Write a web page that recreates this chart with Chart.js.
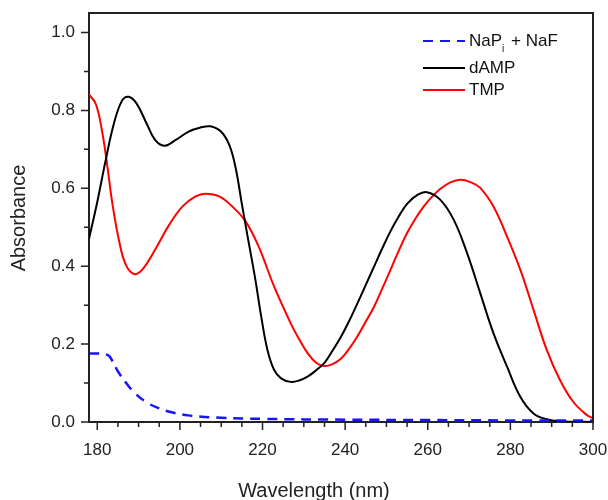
<!DOCTYPE html>
<html>
<head>
<meta charset="utf-8">
<script src="https://cdn.jsdelivr.net/npm/chart.js@4/dist/chart.umd.min.js"></script>
<style>
  body { margin: 0; background: #fff; }
  #wrap { width: 608px; height: 500px; }
</style>
</head>
<body>
<div id="wrap"><canvas id="spectra" width="608" height="500"></canvas></div>
<script>
// wavelength (nm) / absorbance pairs
const damp = [
  [178, 0.47], [180, 0.565], [182, 0.67], [184, 0.765], [186, 0.825], [187.6, 0.835],
  [189.5, 0.818], [192, 0.765], [194, 0.724], [196.2, 0.709], [199, 0.724], [202, 0.745],
  [205, 0.756], [207.4, 0.759], [210, 0.745], [212, 0.71], [213.5, 0.652], [215, 0.56],
  [216.5, 0.47], [218.2, 0.37], [219.7, 0.27], [221.2, 0.185], [222.8, 0.134], [224.5, 0.112],
  [226.8, 0.103], [229, 0.107], [231, 0.117], [233, 0.133], [235, 0.152], [237, 0.184],
  [239, 0.219], [241, 0.26], [243, 0.305], [245, 0.352], [247, 0.399], [249, 0.446],
  [251, 0.49], [253, 0.528], [255, 0.56], [257.5, 0.583], [259.8, 0.59], [263, 0.571],
  [266.3, 0.519], [269.5, 0.434], [272.7, 0.331], [275.9, 0.228], [279.2, 0.142],
  [282.4, 0.065], [285.6, 0.022], [288.8, 0.007], [292, 0.002], [300, 0.0]
];
const tmp = [
  [178, 0.841], [179.7, 0.815], [181.3, 0.738], [182.5, 0.652], [183.7, 0.558],
  [185.3, 0.464], [186.9, 0.404], [188.9, 0.38], [190.9, 0.391], [194.2, 0.446],
  [197.4, 0.506], [200.6, 0.553], [203.8, 0.579], [206.2, 0.586], [209.5, 0.579],
  [212.7, 0.553], [215.9, 0.515], [219, 0.452], [222.8, 0.348], [226.8, 0.254],
  [228.9, 0.212], [230.9, 0.177], [233, 0.152], [234.9, 0.144], [236.8, 0.148],
  [238.9, 0.162], [240.9, 0.187], [242.9, 0.219], [244.9, 0.256], [247, 0.296],
  [249, 0.343], [251, 0.391], [253, 0.44], [255, 0.485], [257, 0.522], [259, 0.553],
  [261, 0.578], [263, 0.598], [265.5, 0.615], [267.9, 0.622], [270.3, 0.616],
  [272.7, 0.601], [275.9, 0.553], [279.2, 0.476], [282.4, 0.391], [285.6, 0.288],
  [288.8, 0.185], [292, 0.108], [295.2, 0.052], [298.5, 0.018], [300, 0.01]
];
const buffer = [
  [178, 0.176], [180, 0.176], [182, 0.174], [183, 0.168], [185, 0.13], [187, 0.10],
  [189, 0.075], [192, 0.05], [195, 0.035], [198, 0.025], [202, 0.017], [206, 0.013],
  [210, 0.011], [220, 0.008], [240, 0.006], [260, 0.005], [280, 0.004], [300, 0.004]
];

const xTicks = [180, 200, 220, 240, 260, 280, 300];
const yTicks = [0, 0.2, 0.4, 0.6, 0.8, 1.0];

const toPoints = arr => arr.map(p => ({ x: p[0], y: p[1] }));
const axisColor = "#222";
const fontFamily = "'Liberation Sans', Arial, sans-serif";

// ticks (major + minor), top/right frame, axis titles
const framePlugin = {
  id: "frame",
  afterDraw(chart) {
    const { ctx, chartArea: a, scales } = chart;
    const xs = scales.x, ys = scales.y;
    ctx.save();
    ctx.strokeStyle = axisColor;
    ctx.lineWidth = 2;
    ctx.beginPath();
    ctx.moveTo(a.left, a.top);
    ctx.lineTo(a.right, a.top);
    ctx.lineTo(a.right, a.bottom);
    ctx.stroke();

    ctx.lineWidth = 1.5;
    ctx.beginPath();
    for (let v = 180; v <= 300; v += 5) {
      const px = xs.getPixelForValue(v);
      const len = v % 20 === 0 ? 8 : 5;
      ctx.moveTo(px, a.bottom);
      ctx.lineTo(px, a.bottom + len);
    }
    for (let i = 0; i <= 10; i++) {
      const py = ys.getPixelForValue(i / 10);
      const len = i % 2 === 0 ? 8 : 5;
      ctx.moveTo(a.left, py);
      ctx.lineTo(a.left - len, py);
    }
    ctx.stroke();

    ctx.fillStyle = "#222";
    ctx.font = "20px " + fontFamily;
    ctx.textAlign = "center";
    ctx.textBaseline = "alphabetic";
    ctx.fillText("Wavelength (nm)", 314, 497);
    ctx.translate(19, 218);
    ctx.rotate(-Math.PI / 2);
    ctx.textBaseline = "middle";
    ctx.fillText("Absorbance", 0, 0);
    ctx.restore();
  }
};

// legend with subscript i
const legendPlugin = {
  id: "subLegend",
  afterDraw(chart) {
    const { ctx } = chart;
    const x0 = 423, x1 = 465, tx = 469;
    const rows = [
      { y: 41, color: "#1414ff", dash: [10, 7], label: ["NaP", "i", " + NaF"] },
      { y: 68, color: "#000", dash: [], label: ["dAMP"] },
      { y: 90, color: "#ff0000", dash: [], label: ["TMP"] }
    ];
    ctx.save();
    ctx.textBaseline = "middle";
    ctx.fillStyle = "#111";
    rows.forEach(r => {
      ctx.strokeStyle = r.color;
      ctx.lineWidth = 2;
      ctx.setLineDash(r.dash);
      ctx.beginPath();
      ctx.moveTo(x0, r.y);
      ctx.lineTo(x1, r.y);
      ctx.stroke();
      ctx.setLineDash([]);
      let x = tx;
      r.label.forEach((part, k) => {
        const sub = r.label.length > 1 && k === 1;
        ctx.font = (sub ? "10px " : "17px ") + fontFamily;
        ctx.fillText(part, x, sub ? r.y + 8 : r.y);
        x += ctx.measureText(part).width + (sub ? 2 : 0);
      });
    });
    ctx.restore();
  }
};

Chart.defaults.font.family = fontFamily;
Chart.defaults.color = "#222";

const lineStyle = { borderWidth: 2, pointRadius: 0, tension: 0.4 };

new Chart(document.getElementById("spectra").getContext("2d"), {
  type: "line",
  data: {
    datasets: [
      { label: "NaPi + NaF", data: toPoints(buffer), borderColor: "#1414ff", borderDash: [10, 7], ...lineStyle, borderWidth: 2.5 },
      { label: "dAMP", data: toPoints(damp), borderColor: "#000", ...lineStyle },
      { label: "TMP", data: toPoints(tmp), borderColor: "#ff0000", ...lineStyle }
    ]
  },
  options: {
    responsive: false,
    animation: false,
    layout: { padding: { left: 0, top: 13, right: 15, bottom: 0 } },
    plugins: {
      legend: { display: false },
      tooltip: { enabled: false }
    },
    scales: {
      x: {
        type: "linear",
        min: 178,
        max: 300,
        afterBuildTicks: s => { s.ticks = xTicks.map(v => ({ value: v })); },
        afterFit: s => { s.height = 78; s.paddingLeft = 0; s.paddingRight = 0; },
        grid: { drawOnChartArea: false, drawTicks: false },
        border: { color: axisColor, width: 2 },
        ticks: { font: { size: 17 }, padding: 18, maxRotation: 0 }
      },
      y: {
        min: 0,
        max: 1.05,
        afterBuildTicks: s => { s.ticks = yTicks.map(v => ({ value: v })); },
        afterFit: s => { s.width = 89; s.paddingTop = 0; s.paddingBottom = 0; },
        grid: { drawOnChartArea: false, drawTicks: false },
        border: { color: axisColor, width: 2 },
        ticks: { font: { size: 17 }, padding: 14, callback: v => v.toFixed(1) }
      }
    }
  },
  plugins: [framePlugin, legendPlugin]
});
</script>
</body>
</html>
